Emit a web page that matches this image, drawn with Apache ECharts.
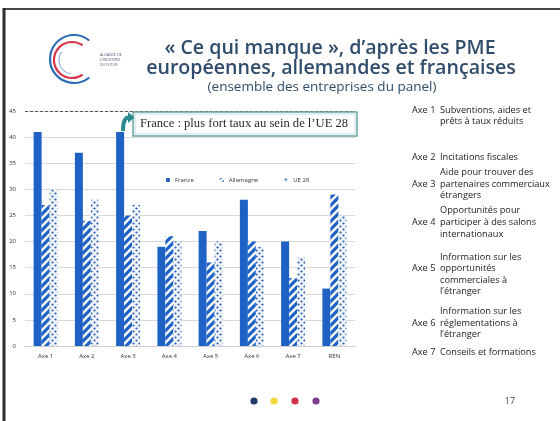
<!DOCTYPE html>
<html>
<head>
<meta charset="utf-8">
<script src="https://cdn.jsdelivr.net/npm/echarts@6/dist/echarts.min.js"></script>
<style>
  html, body { margin: 0; padding: 0; background: #fff; }
  #chart { width: 560px; height: 421px; }
</style>
</head>
<body>
<div id="chart"></div>
<script>
// Categories and values (% of SMEs citing each missing support)
const categories = ['Axe 1', 'Axe 2', 'Axe 3', 'Axe 4', 'Axe 5', 'Axe 6', 'Axe 7', 'REN'];
const france     = [41, 37, 41, 19, 22, 28, 20, 11];
const allemagne  = [27, 24, 25, 21, 16, 20, 13, 29];
const ue28       = [30, 28, 27, 20, 20, 19, 17, 25];
const seriesNames = ['France', 'Allemagne', 'UE 28'];
const yTicks = { min: 0, max: 45, interval: 5 };

// Axis descriptions shown on the right
const axisNotes = [
  { axe: 'Axe 1', lines: ['Subventions, aides et', 'prêts à taux réduits'], y: [110, 121], axeY: 110 },
  { axe: 'Axe 2', lines: ['Incitations fiscales'], y: [157], axeY: 157 },
  { axe: 'Axe 3', lines: ['Aide pour trouver des', 'partenaires commerciaux', 'étrangers'], y: [172, 184, 195], axeY: 184 },
  { axe: 'Axe 4', lines: ['Opportunités pour', 'participer à des salons', 'internationaux'], y: [210, 222, 234], axeY: 222 },
  { axe: 'Axe 5', lines: ['Information sur les', 'opportunités', 'commerciales à', 'l\u2019étranger'], y: [257, 268, 280, 291], axeY: 268 },
  { axe: 'Axe 6', lines: ['Information sur les', 'réglementations à', 'l\u2019étranger'], y: [311, 323, 334], axeY: 323 },
  { axe: 'Axe 7', lines: ['Conseils et formations'], y: [352], axeY: 352 }
];

const BLUE = '#1d62c4';

// Hatched fill: blue diagonal stripes
function stripeTile() {
  const c = document.createElement('canvas');
  c.width = 8; c.height = 8;
  const g = c.getContext('2d');
  g.fillStyle = '#ffffff';
  g.fillRect(0, 0, 8, 8);
  g.strokeStyle = BLUE;
  g.lineWidth = 3.2;
  g.beginPath();
  g.moveTo(-2, 10); g.lineTo(10, -2);
  g.moveTo(-2, 2); g.lineTo(2, -2);
  g.moveTo(6, 10); g.lineTo(10, 6);
  g.stroke();
  return c;
}
// Dotted fill: small blue dots on a pale ground
function dotTile() {
  const c = document.createElement('canvas');
  c.width = 6; c.height = 6;
  const g = c.getContext('2d');
  g.fillStyle = '#f1f5fb';
  g.fillRect(0, 0, 6, 6);
  g.fillStyle = '#2a5db0';
  [[1.5, 1.5], [4.5, 4.5]].forEach(function (p) {
    g.beginPath(); g.arc(p[0], p[1], 1.1, 0, Math.PI * 2); g.fill();
  });
  return c;
}

const chart = echarts.init(document.getElementById('chart'), null, { renderer: 'canvas' });

const font = 'Open Sans, DejaVu Sans, sans-serif';
const graphics = [];

// Slide frame
graphics.push({ type: 'line', shape: { x1: 4, y1: 9, x2: 560, y2: 9 }, style: { stroke: '#4a4a4a', lineWidth: 2 } });
graphics.push({ type: 'line', shape: { x1: 4, y1: 8, x2: 4, y2: 421 }, style: { stroke: '#2e2e2e', lineWidth: 3 } });

// Logo
graphics.push({ type: 'arc', shape: { cx: 74, cy: 59, r: 24, startAngle: Math.PI * 0.28, endAngle: Math.PI * 1.72, clockwise: true }, style: { stroke: '#2f6db5', lineWidth: 2.2, fill: null } });
graphics.push({ type: 'arc', shape: { cx: 72, cy: 60, r: 18, startAngle: Math.PI * 0.3, endAngle: Math.PI * 1.7, clockwise: true }, style: { stroke: '#d8344a', lineWidth: 2.2, fill: null } });
graphics.push({ type: 'arc', shape: { cx: 73, cy: 60, r: 14, startAngle: Math.PI * 0.55, endAngle: Math.PI * 1.2, clockwise: true }, style: { stroke: '#8fb3df', lineWidth: 1.2, fill: null } });
['ALLIANCE DE', 'L\u2019INDUSTRIE', 'DU FUTUR'].forEach(function (t, i) {
  graphics.push({ type: 'text', x: 100, y: 55 + i * 5, style: { text: t, font: '3.6px ' + font, fill: '#557', textVerticalAlign: 'middle' } });
});

// Title
const titleColor = '#2f4c6b';
graphics.push({ type: 'text', x: 330, y: 48, style: { text: '\u00ab Ce qui manque \u00bb, d\u2019après les PME', font: '600 19.6px ' + font, fill: titleColor, textAlign: 'center', textVerticalAlign: 'middle' } });
graphics.push({ type: 'text', x: 331, y: 68, style: { text: 'européennes, allemandes et françaises', font: '600 19.6px ' + font, fill: titleColor, textAlign: 'center', textVerticalAlign: 'middle' } });
graphics.push({ type: 'text', x: 322, y: 87, style: { text: '(ensemble des entreprises du panel)', font: '13.5px ' + font, fill: titleColor, textAlign: 'center', textVerticalAlign: 'middle' } });

// Callout box with arrow
graphics.push({ type: 'rect', shape: { x: 133, y: 112, width: 224, height: 24 }, style: { fill: '#ffffff', stroke: '#6aa3a3', lineWidth: 1.5 }, z: 10 });
graphics.push({ type: 'rect', shape: { x: 135, y: 114, width: 220, height: 20 }, style: { fill: null, stroke: '#b9d3d3', lineWidth: 0.8 }, z: 10 });
graphics.push({ type: 'text', x: 140, y: 124, style: { text: 'France : plus fort taux au sein de l\u2019UE 28', font: '12.6px Liberation Serif, serif', fill: '#2a2a2a', textVerticalAlign: 'middle' }, z: 11 });
graphics.push({ type: 'bezierCurve', shape: { x1: 123, y1: 131, cpx1: 123, cpy1: 117, x2: 129, y2: 117.5 }, style: { stroke: '#2b8a8e', lineWidth: 4, fill: null }, z: 11 });
graphics.push({ type: 'polygon', shape: { points: [[128, 112], [134.5, 117.5], [128, 123]] }, style: { fill: '#2b8a8e' }, z: 11 });

// Right-hand axis descriptions
const noteFont = '9.2px ' + font;
axisNotes.forEach(function (n) {
  graphics.push({ type: 'text', x: 412, y: n.axeY, style: { text: n.axe, font: noteFont, fill: '#222', textVerticalAlign: 'middle' } });
  n.lines.forEach(function (l, i) {
    graphics.push({ type: 'text', x: 440, y: n.y[i], style: { text: l, font: noteFont, fill: '#222', textVerticalAlign: 'middle' } });
  });
});

// Footer dots and page number
[['#1f3a6b', 254], ['#f2d93a', 274], ['#d2334b', 295], ['#7b3d8c', 316]].forEach(function (d) {
  graphics.push({ type: 'circle', shape: { cx: d[1], cy: 401, r: 3.6 }, style: { fill: d[0] } });
});
graphics.push({ type: 'text', x: 510, y: 401, style: { text: '17', font: '9px ' + font, fill: '#444', textAlign: 'center', textVerticalAlign: 'middle' } });

const stripe = { image: stripeTile(), repeat: 'repeat' };
const dots = { image: dotTile(), repeat: 'repeat' };

chart.setOption({
  animation: false,
  backgroundColor: '#ffffff',
  graphic: graphics,
  legend: {
    data: seriesNames,
    left: 161,
    top: 172,
    itemWidth: 4,
    itemHeight: 4,
    itemGap: 26,
    textStyle: { fontSize: 6, color: '#333', fontFamily: font }
  },
  grid: { left: 25, right: 205, top: 111, bottom: 75 },
  xAxis: {
    type: 'category',
    data: categories,
    axisLine: { lineStyle: { color: '#cfcfcf' } },
    axisTick: { show: false },
    axisLabel: { fontSize: 6, color: '#333', fontFamily: font, margin: 7 }
  },
  yAxis: {
    type: 'value',
    min: yTicks.min,
    max: yTicks.max,
    interval: yTicks.interval,
    axisLine: { show: false },
    axisTick: { show: false },
    axisLabel: { fontSize: 6, color: '#333', fontFamily: font, margin: 9 },
    splitLine: { lineStyle: { color: '#d9d9d9', width: 1 } }
  },
  series: [
    {
      name: seriesNames[0], type: 'bar', data: france, barWidth: 8, barGap: '0%',
      itemStyle: { color: BLUE },
      markLine: {
        silent: true, symbol: 'none', label: { show: false },
        lineStyle: { color: '#555', type: [3, 2], width: 1 },
        data: [{ yAxis: yTicks.max }]
      }
    },
    { name: seriesNames[1], type: 'bar', data: allemagne, barWidth: 8, barGap: '0%', itemStyle: { color: stripe } },
    { name: seriesNames[2], type: 'bar', data: ue28, barWidth: 8, barGap: '0%', itemStyle: { color: dots } }
  ]
});
</script>
</body>
</html>
